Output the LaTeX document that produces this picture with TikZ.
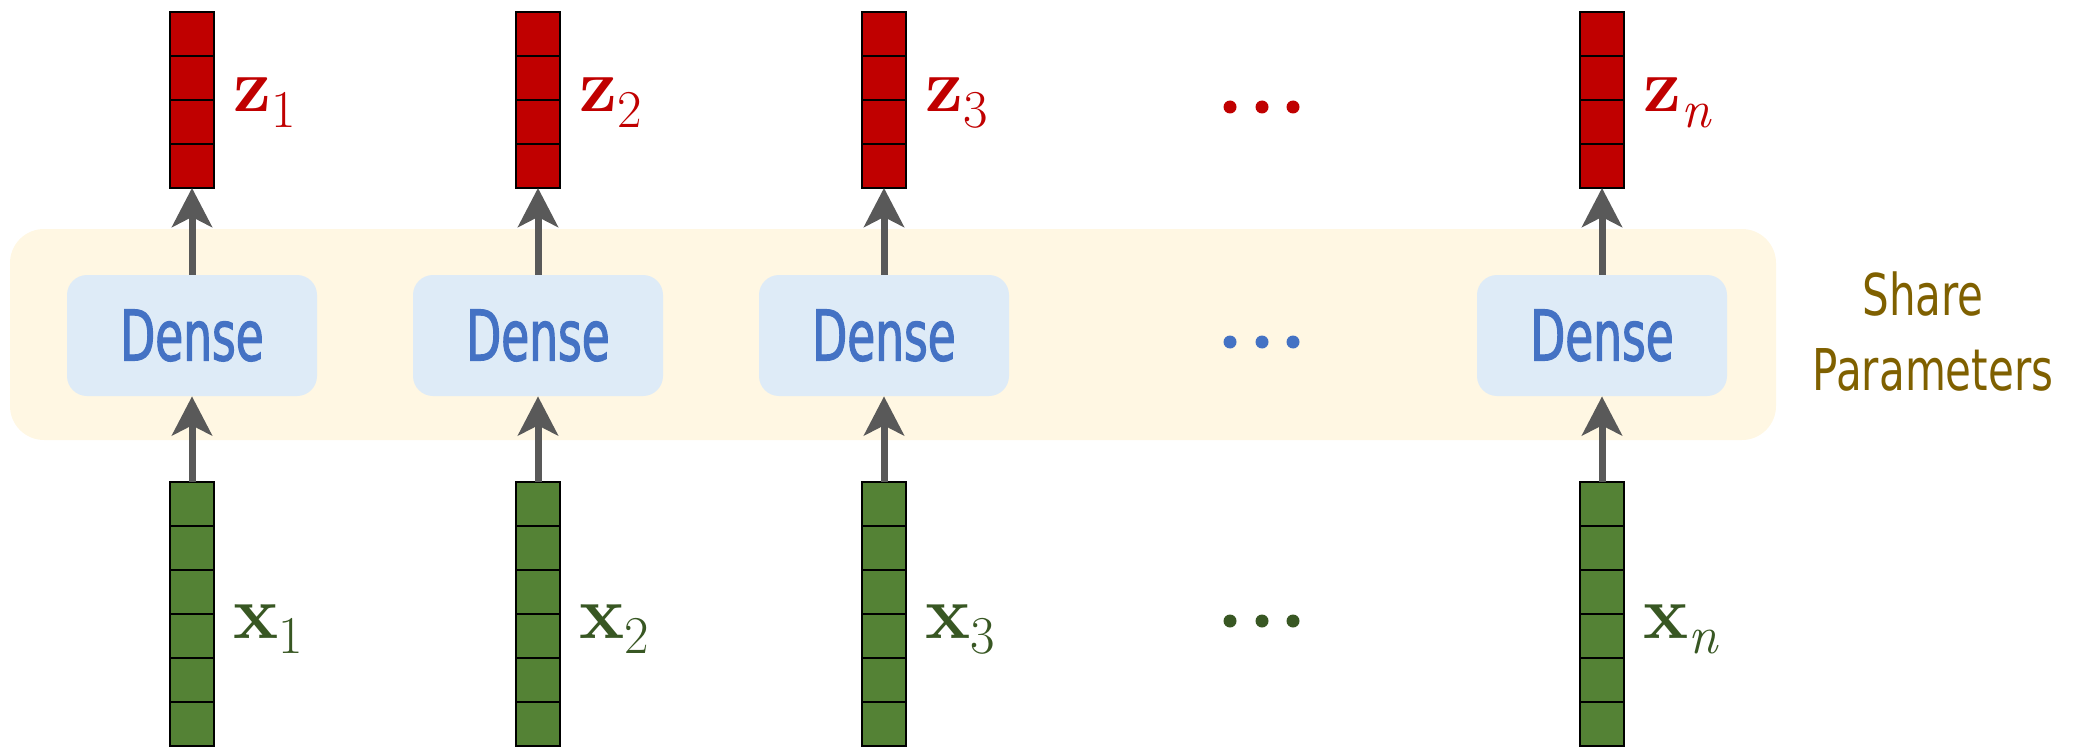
\documentclass[tikz,border=0pt]{standalone}
\usepackage{fontspec}
\usetikzlibrary{arrows.meta,calc}

\newfontfamily\densefont[FakeStretch=0.65,FakeBold=1.6]{DejaVu Sans}
\newfontfamily\sharefont[FakeStretch=0.73]{DejaVu Sans}

\definecolor{zred}{HTML}{C00000}
\definecolor{xgreen}{HTML}{548235}
\definecolor{xlabel}{HTML}{385723}
\definecolor{densefill}{HTML}{DEEBF7}
\definecolor{denseblue}{HTML}{4472C4}
\definecolor{sharefill}{HTML}{FFF7E3}
\definecolor{sharetext}{HTML}{7F6000}
\definecolor{arrowgray}{HTML}{595959}

% bold vector symbol with a lowered index
\newcommand\veclab[2]{\textbf{#1}\raisebox{-0.2em}{\fontsize{26.6}{28}\selectfont #2}}

\begin{document}
\begin{tikzpicture}[x=0.5pt,y=-0.5pt,
  cellcol/.style={draw=black, line width=1.3pt, minimum width=22pt,
    inner sep=0pt, outer sep=0pt},
  zcol/.style={cellcol, fill=zred, minimum height=88pt},
  xcol/.style={cellcol, fill=xgreen, minimum height=132pt},
  cellline/.style={draw=black, line width=1.3pt},
  densebox/.style={fill=densefill, rounded corners=10pt, minimum width=125pt,
    minimum height=60.5pt, inner sep=0pt, text=denseblue,
    font=\densefont\fontsize{35}{40}\selectfont},
  sharebox/.style={fill=sharefill, rounded corners=17pt, minimum width=883pt,
    minimum height=105.5pt, inner sep=0pt},
  sharelabel/.style={text=sharetext, inner sep=0pt, anchor=base,
    font=\sharefont\fontsize{28.8}{32}\selectfont},
  flow/.style={draw=arrowgray, line width=3.5pt,
    -{Stealth[length=19.5pt,width=20pt,inset=5pt]}},
  zlab/.style={text=zred, inner sep=0pt, anchor=base west,
    font=\fontsize{38}{40}\selectfont},
  xlab/.style={text=xlabel, inner sep=0pt, anchor=base west,
    font=\fontsize{38}{40}\selectfont},
  dot/.style={circle, inner sep=0pt, minimum size=6.5pt}
]
\useasboundingbox (0,0) rectangle (2088,749);

% shared-parameter band
\node[sharebox] (band) at (893,334.5) {};
\node[sharelabel] (share1) at (1923,315) {Share};
\node[sharelabel] (share2) at (1933,390) {Parameters};

% one column per time step: input x, dense layer, output z
\foreach \i/\cx/\sub in {1/192/1, 2/538/2, 3/884/3, n/1602/\textit{n}} {
  \node[densebox] (d\i) at (\cx,335.5) {Dense};
  \node[zcol] (z\i) at (\cx,100) {};
  \node[xcol] (x\i) at (\cx,614) {};
  \foreach \k in {1,2,3}
    \draw[cellline] ($(z\i.south west)!\k/4!(z\i.north west)$) --
                    ($(z\i.south east)!\k/4!(z\i.north east)$);
  \foreach \k in {1,...,5}
    \draw[cellline] ($(x\i.south west)!\k/6!(x\i.north west)$) --
                    ($(x\i.south east)!\k/6!(x\i.north east)$);
  \draw[flow] (x\i.north) -- (d\i.south);
  \draw[flow] (d\i.north) -- (z\i.south);
  \node[zlab] (lz\i) at (\cx+41,112) {\veclab{z}{\sub}};
  \node[xlab] (lx\i) at (\cx+41,638) {\veclab{x}{\sub}};
}

% ellipses between step 3 and step n
\foreach \j/\dx in {1/1230, 2/1262, 3/1293} {
  \node[dot, fill=zred] (zd\j) at (\dx,107) {};
  \node[dot, fill=denseblue] (dd\j) at (\dx,342) {};
  \node[dot, fill=xlabel] (xd\j) at (\dx,621) {};
}
\end{tikzpicture}
\end{document}
